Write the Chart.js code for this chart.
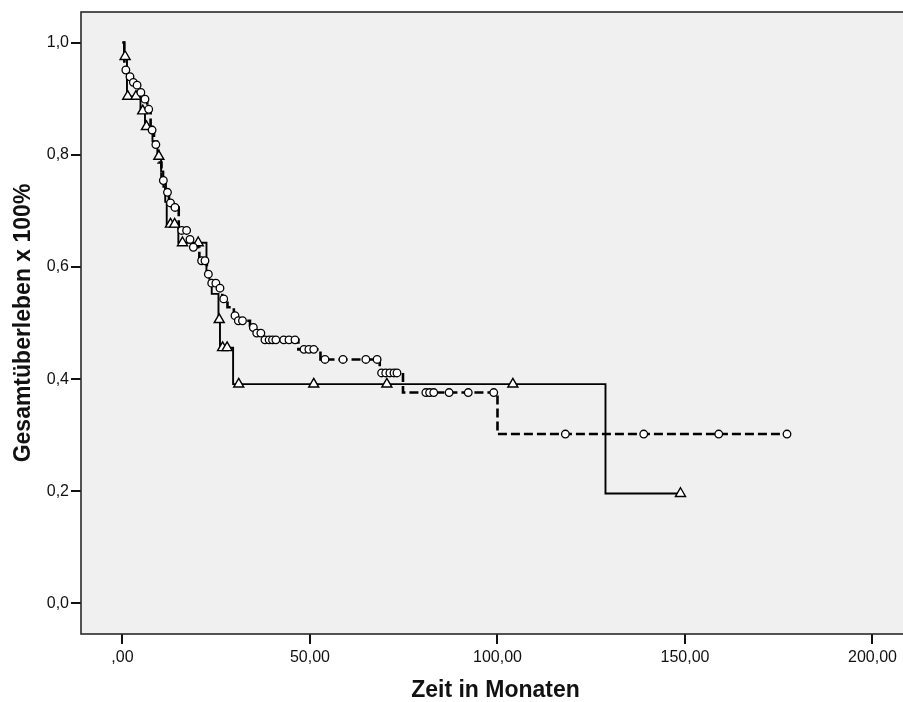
<!DOCTYPE html>
<html>
<head>
<meta charset="utf-8">
<script src="https://cdn.jsdelivr.net/npm/chart.js@4/dist/chart.umd.min.js"></script>
<style>
  html, body { margin: 0; padding: 0; background: #ffffff; overflow: hidden; }
  #wrap { width: 903px; height: 702px; overflow: hidden; }
  canvas { display: block; }
</style>
</head>
<body>
<div id="wrap"><canvas id="km" width="930" height="702"></canvas></div>
<script>
// Axis ticks and labels
const xTicks = [0, 50, 100, 150, 200];
const xTickLabels = [',00', '50,00', '100,00', '150,00', '200,00'];
const yTicks = [0, 0.2, 0.4, 0.6, 0.8, 1.0];
const yTickLabels = ['0,0', '0,2', '0,4', '0,6', '0,8', '1,0'];

// Group A (solid line, triangle censor marks): event times and survival after each event
const solidTimes = [0, 0.4, 1.2, 4.8, 6.0, 8.0, 9.3, 10.3, 10.9, 11.4, 11.8, 14.9, 22.4, 23.2, 23.8, 25.6, 26.0, 29.5, 128.8, 148.8];
const solidSurv  = [1.0, 0.975, 0.904, 0.878, 0.850, 0.824, 0.797, 0.770, 0.743, 0.716, 0.676, 0.643, 0.591, 0.571, 0.552, 0.506, 0.456, 0.391, 0.196, 0.196];
const solidCensTimes = [0.7, 1.4, 3.6, 5.4, 6.4, 9.7, 12.8, 13.9, 16.0, 20.2, 25.8, 26.7, 27.9, 31.0, 51.0, 70.5, 104.1, 148.8];
const solidCensSurv  = [0.975, 0.904, 0.904, 0.878, 0.850, 0.797, 0.676, 0.676, 0.643, 0.643, 0.506, 0.456, 0.456, 0.391, 0.391, 0.391, 0.391, 0.196];

// Group B (dashed line, circle censor marks)
const dashedTimes = [0, 0.5, 1.5, 2.5, 3.4, 4.4, 5.5, 6.6, 7.5, 8.4, 9.6, 10.4, 11.5, 12.4, 13.5, 15.0, 17.6, 18.5, 20.5, 22.5, 23.4, 25.5, 26.6, 28.0, 29.7, 30.5, 34.0, 35.4, 37.5, 46.9, 52.8, 68.6, 74.8, 100.0, 177.2];
const dashedSurv  = [1.0, 0.951, 0.939, 0.929, 0.924, 0.911, 0.899, 0.881, 0.844, 0.818, 0.786, 0.754, 0.733, 0.714, 0.706, 0.665, 0.649, 0.635, 0.611, 0.587, 0.571, 0.562, 0.543, 0.528, 0.513, 0.504, 0.492, 0.482, 0.470, 0.453, 0.435, 0.411, 0.376, 0.302, 0.302];
const dashedCensTimes = [0.9, 2.0, 2.9, 3.9, 4.9, 6.0, 7.0, 7.9, 8.9, 10.9, 12.0, 12.8, 14.0, 15.8, 17.1, 18.0, 18.9, 21.1, 22.0, 22.9, 23.8, 24.9, 26.0, 27.0, 30.0, 30.9, 32.0, 34.9, 35.8, 36.9, 38.0, 39.1, 40.0, 40.9, 43.0, 44.4, 46.0, 48.4, 49.7, 51.0, 54.0, 58.8, 64.9, 67.9, 69.1, 70.2, 71.3, 72.4, 73.2, 80.9, 81.9, 83.0, 87.1, 92.2, 99.0, 118.1, 139.0, 159.0, 177.2];
const dashedCensSurv  = [0.951, 0.939, 0.929, 0.924, 0.911, 0.899, 0.881, 0.844, 0.818, 0.754, 0.733, 0.714, 0.706, 0.665, 0.665, 0.649, 0.635, 0.611, 0.611, 0.587, 0.571, 0.571, 0.562, 0.543, 0.513, 0.504, 0.504, 0.492, 0.482, 0.482, 0.470, 0.470, 0.470, 0.470, 0.470, 0.470, 0.470, 0.453, 0.453, 0.453, 0.435, 0.435, 0.435, 0.435, 0.411, 0.411, 0.411, 0.411, 0.411, 0.376, 0.376, 0.376, 0.376, 0.376, 0.376, 0.302, 0.302, 0.302, 0.302];

const toPoints = (xs, ys) => xs.map((x, i) => ({ x: x, y: ys[i] }));

const FONT = "'Liberation Sans', Arial, Helvetica, sans-serif";
const INK = '#111111';

// Grey plot panel with a dark frame
const plotFrame = {
  id: 'plotFrame',
  beforeDatasetsDraw(chart) {
    const { ctx, chartArea: a } = chart;
    ctx.save();
    ctx.fillStyle = '#f0f0f0';
    ctx.fillRect(a.left, a.top, a.right - a.left, a.bottom - a.top);
    ctx.restore();
  },
  afterDraw(chart) {
    const { ctx, chartArea: a } = chart;
    ctx.save();
    ctx.strokeStyle = '#2a2a2a';
    ctx.lineWidth = 1.6;
    ctx.strokeRect(a.left, a.top, a.right - a.left, a.bottom - a.top);
    ctx.restore();
  }
};

new Chart(document.getElementById('km'), {
  type: 'line',
  data: {
    datasets: [
      {
        data: toPoints(dashedCensTimes, dashedCensSurv),
        showLine: false,
        pointStyle: 'circle',
        pointRadius: 3.8,
        pointBackgroundColor: '#ffffff',
        pointBorderColor: '#000000',
        pointBorderWidth: 1.3,
        order: 0
      },
      {
        data: toPoints(solidCensTimes, solidCensSurv),
        showLine: false,
        pointStyle: 'triangle',
        pointRadius: 5.8,
        pointBackgroundColor: '#ffffff',
        pointBorderColor: '#000000',
        pointBorderWidth: 1.4,
        order: 1
      },
      {
        data: toPoints(dashedTimes, dashedSurv),
        stepped: 'before',
        borderColor: '#000000',
        borderWidth: 2.6,
        borderDash: [9, 4],
        pointRadius: 0,
        fill: false,
        order: 2
      },
      {
        data: toPoints(solidTimes, solidSurv),
        stepped: 'before',
        borderColor: '#000000',
        borderWidth: 1.9,
        pointRadius: 0,
        fill: false,
        order: 3
      }
    ]
  },
  options: {
    responsive: false,
    devicePixelRatio: 1,
    animation: false,
    events: [],
    layout: { padding: { left: 0, top: 12, right: 20, bottom: 0 } },
    plugins: { legend: { display: false }, tooltip: { enabled: false } },
    scales: {
      x: {
        type: 'linear',
        min: -11.06,
        max: 210,
        afterBuildTicks: s => { s.ticks = xTicks.map(v => ({ value: v })); },
        afterFit: s => { s.height = 68; },
        ticks: {
          autoSkip: false,
          maxRotation: 0,
          padding: 4,
          color: INK,
          font: { family: FONT, size: 16 },
          callback: (v, i) => xTickLabels[i]
        },
        grid: { drawOnChartArea: false, drawTicks: true, tickLength: 10, color: INK, lineWidth: 2 },
        border: { display: false },
        title: {
          display: true,
          text: 'Zeit in Monaten',
          color: INK,
          font: { family: FONT, size: 23, weight: 'bold', lineHeight: 1.0 },
          padding: { top: 0, bottom: 0 }
        }
      },
      y: {
        type: 'linear',
        min: -0.0544,
        max: 1.0544,
        afterBuildTicks: s => { s.ticks = yTicks.map(v => ({ value: v })); },
        afterFit: s => { s.width = 81; },
        ticks: {
          autoSkip: false,
          padding: 2,
          color: INK,
          font: { family: FONT, size: 16 },
          callback: (v, i) => yTickLabels[i]
        },
        grid: { drawOnChartArea: false, drawTicks: true, tickLength: 10, color: INK, lineWidth: 2 },
        border: { display: false },
        title: {
          display: true,
          text: 'Gesamtüberleben x 100%',
          color: INK,
          font: { family: FONT, size: 23, weight: 'bold' },
          padding: { top: 10, bottom: 0 }
        }
      }
    }
  },
  plugins: [plotFrame]
});
</script>
</body>
</html>
